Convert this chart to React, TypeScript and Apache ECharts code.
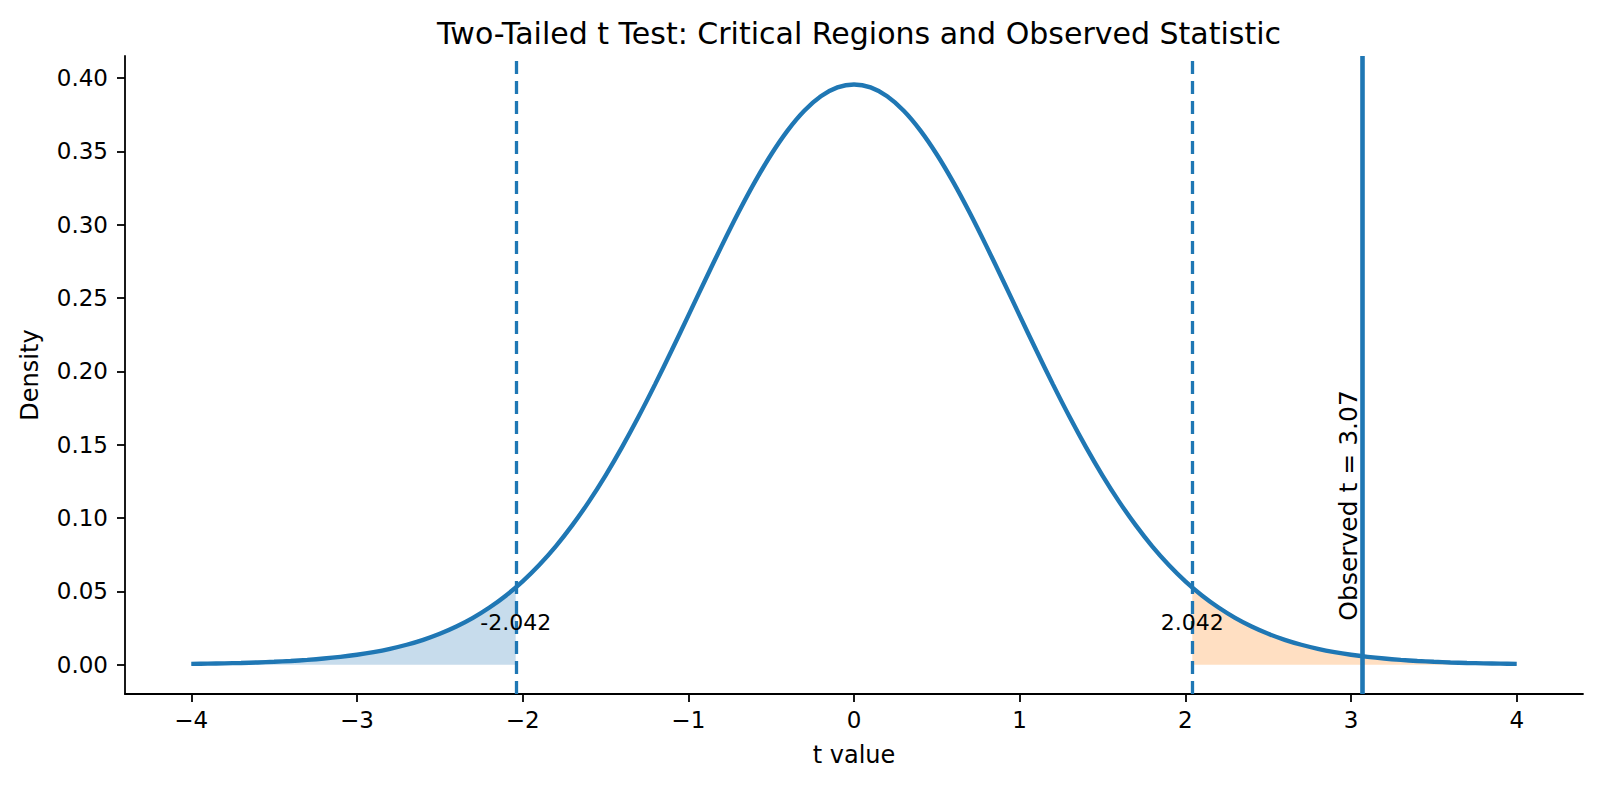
import React, { useEffect, useRef } from "react";
import * as echarts from "echarts";

// t grid (step 0.1) and read-off density values of the curve
const tGrid: number[] = [
  -4.0, -3.9, -3.8, -3.7, -3.6, -3.5, -3.4, -3.3, -3.2, -3.1, -3.0, -2.9, -2.8, -2.7, -2.6, -2.5,
  -2.4, -2.3, -2.2, -2.1, -2.0, -1.9, -1.8, -1.7, -1.6, -1.5, -1.4, -1.3, -1.2, -1.1, -1.0, -0.9,
  -0.8, -0.7, -0.6, -0.5, -0.4, -0.3, -0.2, -0.1, 0.0, 0.1, 0.2, 0.3, 0.4, 0.5, 0.6, 0.7, 0.8, 0.9,
  1.0, 1.1, 1.2, 1.3, 1.4, 1.5, 1.6, 1.7, 1.8, 1.9, 2.0, 2.1, 2.2, 2.3, 2.4, 2.5, 2.6, 2.7, 2.8,
  2.9, 3.0, 3.1, 3.2, 3.3, 3.4, 3.5, 3.6, 3.7, 3.8, 3.9, 4.0,
];
const density: number[] = [
  0.00053, 0.00069, 0.0009, 0.00117, 0.00151, 0.00196, 0.00253, 0.00326, 0.00417, 0.00533, 0.00678,
  0.00858, 0.01082, 0.01358, 0.01695, 0.02105, 0.026, 0.03193, 0.03895, 0.0472, 0.05684, 0.06798,
  0.0807, 0.09514, 0.11118, 0.12895, 0.14834, 0.16917, 0.19128, 0.21433, 0.23799, 0.26178, 0.2852,
  0.30775, 0.32881, 0.34785, 0.36429, 0.37765, 0.38751, 0.39356, 0.3956, 0.39356, 0.38751, 0.37765,
  0.36429, 0.34785, 0.32881, 0.30775, 0.2852, 0.26178, 0.23799, 0.21433, 0.19128, 0.16917, 0.14834,
  0.12895, 0.11118, 0.09514, 0.0807, 0.06798, 0.05684, 0.0472, 0.03895, 0.03193, 0.026, 0.02105,
  0.01695, 0.01358, 0.01082, 0.00858, 0.00678, 0.00533, 0.00417, 0.00326, 0.00253, 0.00196, 0.00151,
  0.00117, 0.0009, 0.00069, 0.00053,
];

const criticalValue = 2.042;
const criticalDensity = 0.0526;
const observedT = 3.07;

const xTicks: number[] = [-4, -3, -2, -1, 0, 1, 2, 3, 4];
const yTicks: number[] = [0, 0.05, 0.1, 0.15, 0.2, 0.25, 0.3, 0.35, 0.4];

const titleText = "Two-Tailed t Test: Critical Regions and Observed Statistic";
const xName = "t value";
const yName = "Density";
const observedLabel = "Observed t = 3.07";
const criticalLabelY = 0.029;
const observedLabelY = 0.03;

const BLUE = "#1f77b4";
const FONT = "DejaVu Sans";

export default function App() {
  const ref = useRef<HTMLDivElement>(null);

  useEffect(() => {
    document.body.style.margin = "0";
    const el = ref.current!;
    const chart = echarts.init(el, null, { renderer: "svg" });

    const curve = tGrid.map((t, i) => [t, density[i]]);
    const leftFill = [
      ...curve.filter((p) => p[0] < -criticalValue),
      [-criticalValue, criticalDensity],
    ];
    const rightFill = [
      [criticalValue, criticalDensity],
      ...curve.filter((p) => p[0] > criticalValue),
    ];

    const fmtX = (v: number) => (v < 0 ? "\u2212" + Math.abs(v) : String(v));

    const option: any = {
      animation: false,
      backgroundColor: "#ffffff",
      title: {
        text: titleText,
        left: 854,
        textAlign: "center",
        top: 13,
        textStyle: { fontFamily: FONT, fontSize: 30, fontWeight: "normal", color: "#000" },
      },
      grid: { left: 125, right: 18, top: 56, bottom: 93, containLabel: false },
      xAxis: {
        type: "value",
        min: -4.4,
        max: 4.4,
        name: xName,
        nameLocation: "middle",
        nameGap: 49,
        nameTextStyle: { fontFamily: FONT, fontSize: 24, color: "#000" },
        splitLine: { show: false },
        axisLine: { show: true, onZero: false, lineStyle: { color: "#000", width: 1.8 } },
        axisTick: {
          show: true,
          customValues: xTicks,
          length: 8,
          lineStyle: { color: "#000", width: 1.8 },
        },
        axisLabel: {
          customValues: xTicks,
          formatter: fmtX,
          margin: 14,
          fontFamily: FONT,
          fontSize: 23,
          color: "#000",
        },
      },
      yAxis: {
        type: "value",
        min: -0.02,
        max: 0.415,
        name: yName,
        nameLocation: "middle",
        nameGap: 83,
        nameTextStyle: { fontFamily: FONT, fontSize: 24, color: "#000" },
        splitLine: { show: false },
        axisLine: { show: true, onZero: false, lineStyle: { color: "#000", width: 1.8 } },
        axisTick: {
          show: true,
          customValues: yTicks,
          length: 8,
          lineStyle: { color: "#000", width: 1.8 },
        },
        axisLabel: {
          customValues: yTicks,
          formatter: (v: number) => v.toFixed(2),
          margin: 17,
          fontFamily: FONT,
          fontSize: 23,
          color: "#000",
        },
      },
      series: [
        {
          type: "line",
          data: leftFill,
          smooth: 0.3,
          symbol: "none",
          lineStyle: { width: 0 },
          areaStyle: { color: "#c7dcec", opacity: 1 },
          silent: true,
          z: 1,
        },
        {
          type: "line",
          data: rightFill,
          smooth: 0.3,
          symbol: "none",
          lineStyle: { width: 0 },
          areaStyle: { color: "#ffdfc2", opacity: 1 },
          silent: true,
          z: 1,
        },
        {
          type: "line",
          data: curve,
          smooth: 0.3,
          symbol: "none",
          lineStyle: { color: BLUE, width: 4.4 },
          z: 3,
          markLine: {
            silent: true,
            symbol: "none",
            label: { show: false },
            data: [
              { xAxis: -criticalValue, lineStyle: { color: BLUE, width: 3.3, type: [13, 7] } },
              { xAxis: criticalValue, lineStyle: { color: BLUE, width: 3.3, type: [13, 7] } },
              { xAxis: observedT, lineStyle: { color: BLUE, width: 4.6, type: "solid" } },
            ],
          },
        },
      ],
    };

    chart.setOption(option);

    const pL = chart.convertToPixel({ gridIndex: 0 }, [-criticalValue, criticalLabelY]) as number[];
    const pR = chart.convertToPixel({ gridIndex: 0 }, [criticalValue, criticalLabelY]) as number[];
    const pO = chart.convertToPixel({ gridIndex: 0 }, [observedT, observedLabelY]) as number[];

    chart.setOption({
      graphic: [
        {
          type: "text",
          x: pL[0],
          y: pL[1],
          z: 10,
          style: {
            text: "-" + criticalValue.toFixed(3),
            fontFamily: FONT,
            fontSize: 22,
            fill: "#000",
            textAlign: "center",
            textVerticalAlign: "middle",
          },
        },
        {
          type: "text",
          x: pR[0],
          y: pR[1],
          z: 10,
          style: {
            text: criticalValue.toFixed(3),
            fontFamily: FONT,
            fontSize: 22,
            fill: "#000",
            textAlign: "center",
            textVerticalAlign: "middle",
          },
        },
        {
          type: "text",
          x: pO[0] - 2,
          y: pO[1],
          rotation: Math.PI / 2,
          z: 10,
          style: {
            text: observedLabel,
            fontFamily: FONT,
            fontSize: 25,
            fill: "#000",
            textAlign: "left",
            textVerticalAlign: "bottom",
          },
        },
      ],
    });

    return () => chart.dispose();
  }, []);

  return <div ref={ref} style={{ width: 1601, height: 787 }} />;
}
